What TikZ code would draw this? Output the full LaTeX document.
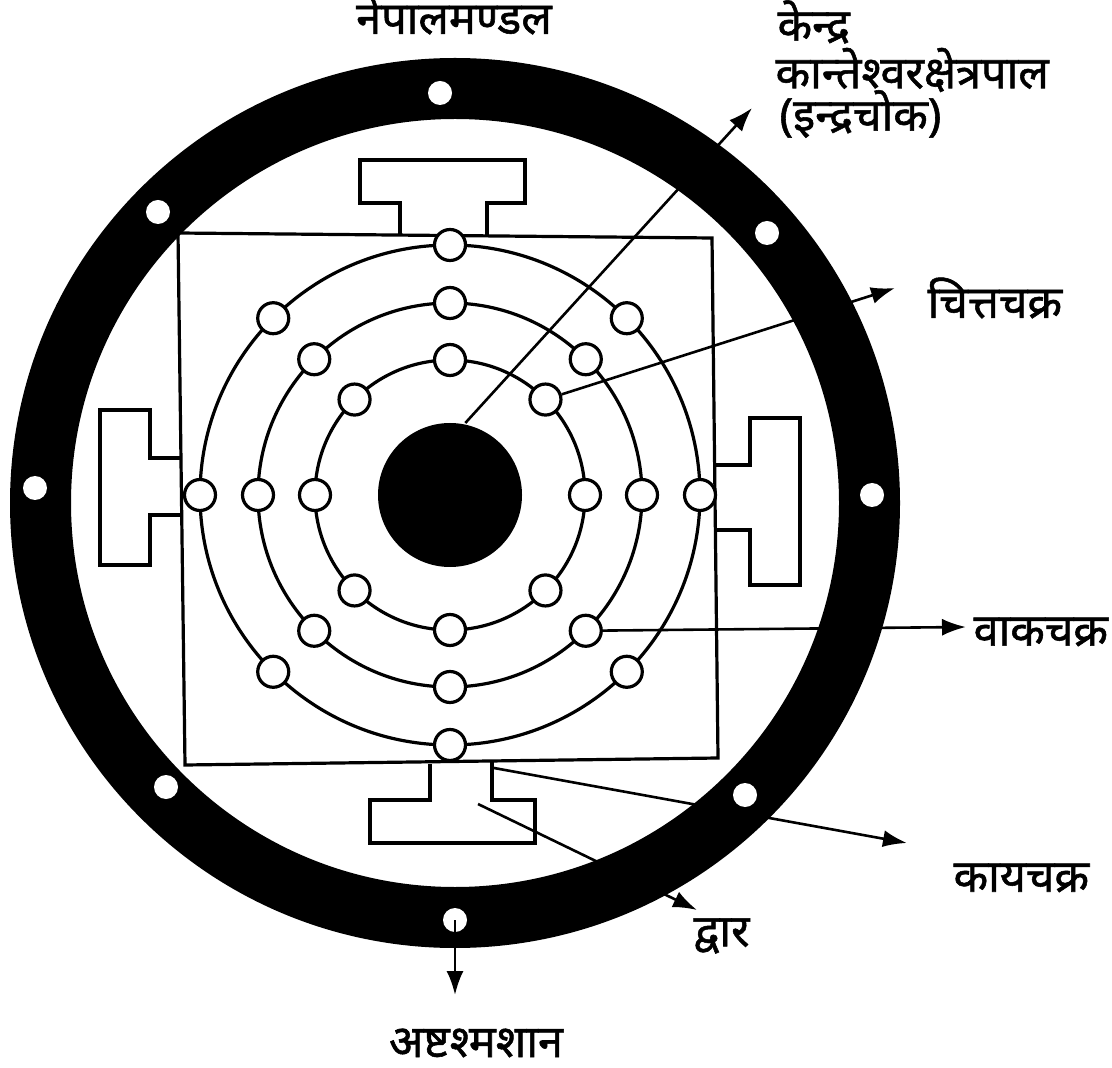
\documentclass[tikz,border=0pt]{standalone}
\usepackage{fontspec}
\newfontfamily\dev[Script=Devanagari,FakeBold=1.2]{Noto Sans}
\usetikzlibrary{arrows.meta}
\begin{document}
\begin{tikzpicture}[x=0.5pt,y=-0.5pt,line width=1.6pt,
  lbl/.style={font=\dev\fontsize{22.5}{25}\selectfont,inner sep=0pt},
  arr/.style={-{Latex[length=12pt,width=8.5pt]},line width=1.3pt},
  hole/.style={circle,draw,fill=white,line width=1.6pt,minimum size=15.5pt,inner sep=0pt},
  bdot/.style={circle,fill=white,minimum size=12pt,inner sep=0pt}]
\useasboundingbox (0,0) rectangle (1112,1068);
% outer ring
\fill[even odd rule] (455,503) circle[radius=445] (455,503) circle[radius=384];
\node[bdot] (d1) at (440,93) {};
\node[bdot] (d2) at (158,212) {};
\node[bdot] (d3) at (767,233) {};
\node[bdot] (d4) at (35,488) {};
\node[bdot] (d5) at (872,495) {};
\node[bdot] (d6) at (166,787) {};
\node[bdot] (d7) at (745,795) {};
\node[bdot] (d8) at (455,920) {};
% square
\draw (178,233) -- (712,238) -- (718,758) -- (185,765) -- cycle;
% gates
\draw (400,236) -- (400,203) -- (360,203) -- (360,160) -- (525,160) -- (525,203) -- (487,203) -- (487,237);
\draw (430,764) -- (430,800) -- (370,800) -- (370,843) -- (535,843) -- (535,800) -- (492,800) -- (492,762);
\draw (181,458) -- (150,458) -- (150,410) -- (100,410) -- (100,565) -- (150,565) -- (150,515) -- (182,515);
\draw (715,465) -- (750,465) -- (750,418) -- (800,418) -- (800,585) -- (750,585) -- (750,530) -- (716,530);
% rings
\draw (450,495) circle[radius=250];
\draw (450,495) circle[radius=192];
\draw (450,495) circle[radius=135];
\node[circle,fill=black,minimum size=72pt,inner sep=0pt] (hub) at (450,495) {};
\begin{scope}[shift={(450,495)}]
\foreach \a in {0,45,...,315}{
  \node[hole] (o\a) at (\a:250) {};
  \node[hole] (m\a) at (\a:192) {};
  \node[hole] (i\a) at (\a:135) {};
}
\end{scope}
% labels
\node[lbl,anchor=center] (title) at (454,14) {नेपालमण्डल};
\node[lbl,anchor=west] (k1) at (776,22) {केन्द्र};
\node[lbl,anchor=west] (k2) at (774,70) {कान्तेश्वरक्षेत्रपाल};
\node[lbl,anchor=west] (k3) at (778,114) {(इन्द्रचोक)};
\node[lbl,anchor=west] (chitta) at (926,298) {चित्तचक्र};
\node[lbl,anchor=west] (vak) at (972,632) {वाकचक्र};
\node[lbl,anchor=west] (kaya) at (952,878) {कायचक्र};
\node[lbl,anchor=west] (dvar) at (692,936) {द्वार};
\node[lbl,anchor=center] (ashta) at (476,1043) {अष्टश्मशान};
% arrows
\coordinate (kE) at (752,108);
\coordinate (cE) at (895,288);
\coordinate (vE) at (966,627);
\coordinate (kyS) at (494,768);
\coordinate (kyE) at (907,843);
\coordinate (dvS) at (478,804);
\coordinate (dvE) at (697,910);
\coordinate (aE) at (455,995);
\draw[arr] (hub.78) -- (kE);
\draw[arr] (i315) -- (cE);
\draw[arr] (m45) -- (vE);
\draw[arr] (kyS) -- (kyE);
\draw[arr] (dvS) -- (dvE);
\draw[arr] (d8.center) -- (aE);
\end{tikzpicture}
\end{document}
